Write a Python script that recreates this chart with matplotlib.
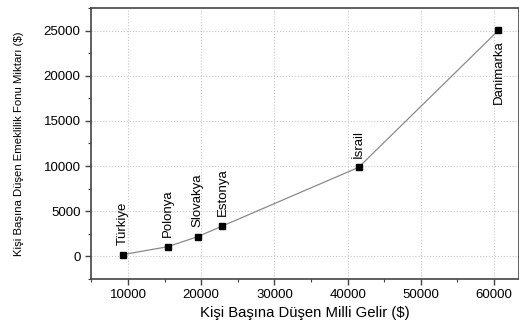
import matplotlib
matplotlib.use('Agg')
import matplotlib.pyplot as plt
from matplotlib.ticker import MultipleLocator

ulkeler = ['Türkiye', 'Polonya', 'Slovakya', 'Estonya', 'İsrail', 'Danimarka']
gelir = [9300, 15400, 19500, 22900, 41500, 60600]
fon = [200, 1070, 2180, 3370, 9860, 25030]

plt.rcParams['font.family'] = ['Liberation Sans', 'DejaVu Sans']

fig = plt.figure(figsize=(5.19, 3.23), dpi=100)
ax = fig.add_axes([91 / 519, 44 / 323, 428 / 519, 271 / 323])

ax.plot(gelir, fon, color='#8a8a8a', lw=0.9, zorder=2)
ax.plot(gelir, fon, 's', color='black', ms=5, zorder=3)

for ulke, x, y in zip(ulkeler, gelir, fon):
    if ulke == 'Danimarka':
        ax.annotate(ulke, (x, y), xytext=(0, -7), textcoords='offset points',
                    rotation=90, ha='center', va='top', fontsize=9.5)
    else:
        ax.annotate(ulke, (x, y), xytext=(0, 7), textcoords='offset points',
                    rotation=90, ha='center', va='bottom', fontsize=9.5)

ax.set_xlim(4950, 63400)
ax.set_ylim(-2500, 27500)
ax.xaxis.set_major_locator(MultipleLocator(10000))
ax.xaxis.set_minor_locator(MultipleLocator(5000))
ax.yaxis.set_major_locator(MultipleLocator(5000))
ax.yaxis.set_minor_locator(MultipleLocator(2500))
ax.grid(True, which='major', color='#c8c8c8', ls=':', lw=0.8)
ax.set_axisbelow(True)

ax.tick_params(which='major', length=4, width=1, labelsize=9.5, color='#444444')
ax.tick_params(which='minor', length=2.5, width=0.8, color='#444444')
for s in ax.spines.values():
    s.set_linewidth(1.2)
    s.set_color('#444444')

ax.set_xlabel('Kişi Başına Düşen Milli Gelir ($)', fontsize=10.7, labelpad=3)
ax.set_ylabel('Kişi Başına Düşen Emeklilik Fonu Miktarı ($)', fontsize=8.2,
              labelpad=14)

fig.savefig('out.png', dpi=100)
